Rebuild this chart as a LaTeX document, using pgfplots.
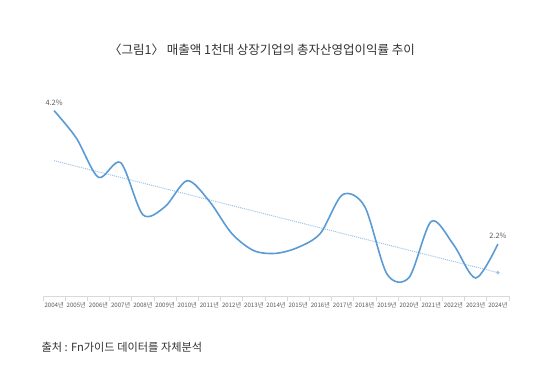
\documentclass[border=0pt]{standalone}
\usepackage{fontspec}
\setmainfont{Noto Sans CJK KR}
\usepackage{pgfplots}
\pgfplotsset{compat=1.18}
\definecolor{lineblue}{HTML}{5B9BD5}
\definecolor{trendblue}{HTML}{9DC3E6}
\definecolor{axisgray}{HTML}{D9D9D9}
\definecolor{labgray}{HTML}{595959}
\definecolor{titlegray}{HTML}{333333}
\begin{document}
\begin{tikzpicture}[x=1bp,y=1bp]
\path[use as bounding box,fill=white] (0,0) rectangle (549,384);
\node[font=\fontsize{12.5bp}{14bp}\selectfont,text=titlegray] at (262,334) {〈그림1〉 매출액 1천대 상장기업의 총자산영업이익률 추이};
\node[font=\fontsize{11.2bp}{13bp}\selectfont,text=titlegray,anchor=west] at (38,37) {출처 : Fn가이드 데이터를 자체분석};
\begin{axis}[
  at={(43bp,88bp)}, anchor=south west,
  scale only axis, width=466bp, height=216bp,
  xmin=2003.5, xmax=2024.5, ymin=1.42, ymax=4.66,
  clip=false,
  /pgf/number format/assume math mode=true,
  axis y line=none, axis x line=bottom,
  x axis line style={-, draw=axisgray, line width=0.6bp},
  xtick={2004,...,2024},
  xticklabels={2004년,2005년,2006년,2007년,2008년,2009년,2010년,2011년,2012년,2013년,2014년,2015년,2016년,2017년,2018년,2019년,2020년,2021년,2022년,2023년,2024년},
  major tick length=0pt,
  minor xtick={2003.5,2004.5,...,2024.5},
  minor tick length=5bp,
  tick align=outside,
  minor tick style={draw=axisgray, line width=0.6bp},
  xticklabel style={font=\fontsize{6.1bp}{7bp}\selectfont, text=labgray, yshift=-2.5bp},
]
\addplot[trendblue, line width=1bp, densely dotted, mark=*, mark size=1.2bp, mark indices={2}, mark options={solid,fill=trendblue,draw=trendblue}]
  coordinates {(2004,3.45) (2024,1.77)};
\addplot[lineblue, line width=1.6bp, smooth, tension=0.5]
  coordinates {
  (2004,4.20) (2005,3.79) (2006,3.20) (2007,3.42) (2008,2.64) (2009,2.76)
  (2010,3.15) (2011,2.84) (2012,2.36) (2013,2.10) (2014,2.06) (2015,2.15)
  (2016,2.36) (2017,2.94) (2018,2.76) (2019,1.75) (2020,1.70) (2021,2.54)
  (2022,2.19) (2023,1.69) (2024,2.20)};
\addplot[draw=none, mark=none, point meta=explicit,
  nodes near coords={\pgfmathprintnumber[fixed,precision=1,fixed zerofill,assume math mode=true]{\pgfplotspointmeta}\%},
  nodes near coords style={font=\fontsize{7.4bp}{8bp}\selectfont, text=labgray, anchor=south, yshift=1.5bp}]
  coordinates {(2004,4.20) [4.2] (2024,2.20) [2.2]};
\end{axis}
\end{tikzpicture}
\end{document}
